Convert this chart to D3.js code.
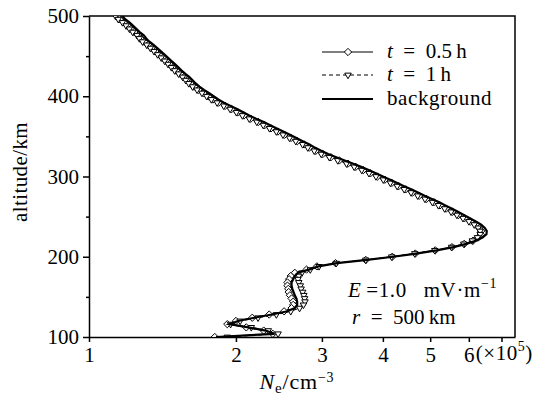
<!DOCTYPE html>
<html><head><meta charset="utf-8">
<script src="https://cdn.jsdelivr.net/npm/d3@7"></script>
<style>
body{margin:0;background:#fff;}
svg text{font-family:"Liberation Serif","Times New Roman",serif;fill:#000;}
</style></head>
<body><svg id="c" width="545" height="407"></svg>
<script>
const altitudes = d3.range(500, 99, -4);
const background = [1.17,1.186,1.21,1.23,1.25,1.27,1.295,1.31,1.33,1.356,1.38,1.404,1.428,1.452,1.476,1.50,1.524,1.548,1.576,1.606,1.63,1.654,1.684,1.72,1.76,1.80,1.84,1.89,1.95,2.01,2.07,2.13,2.20,2.28,2.35,2.42,2.50,2.58,2.66,2.74,2.83,2.90,2.99,3.09,3.21,3.34,3.48,3.61,3.74,3.87,4.00,4.14,4.28,4.42,4.57,4.72,4.87,5.04,5.22,5.37,5.53,5.70,5.86,6.03,6.20,6.36,6.47,6.53,6.52,6.40,6.20,5.93,5.58,5.15,4.68,4.20,3.71,3.22,2.95,2.82,2.68,2.64,2.62,2.60,2.60,2.61,2.625,2.64,2.66,2.67,2.67,2.64,2.55,2.37,2.18,2.02,1.94,2.12,2.30,2.40,1.82];
const t05h = [1.14,1.156,1.18,1.20,1.219,1.238,1.263,1.277,1.297,1.322,1.346,1.369,1.392,1.416,1.439,1.463,1.486,1.509,1.537,1.566,1.589,1.613,1.642,1.677,1.716,1.755,1.794,1.843,1.901,1.960,2.018,2.077,2.145,2.223,2.291,2.36,2.438,2.516,2.594,2.672,2.759,2.828,2.915,3.013,3.130,3.257,3.393,3.520,3.647,3.773,3.90,4.037,4.173,4.310,4.456,4.602,4.748,4.914,5.090,5.236,5.392,5.558,5.714,5.879,6.045,6.201,6.31,6.36,6.35,6.27,6.12,5.87,5.54,5.12,4.66,4.18,3.69,3.20,2.93,2.79,2.64,2.59,2.57,2.55,2.55,2.56,2.565,2.58,2.60,2.62,2.62,2.60,2.51,2.34,2.16,2.00,1.92,2.10,2.28,2.38,1.81];
const t1h = [1.133,1.148,1.171,1.191,1.21,1.229,1.254,1.268,1.287,1.313,1.336,1.359,1.382,1.406,1.429,1.452,1.475,1.498,1.526,1.555,1.578,1.601,1.63,1.665,1.704,1.742,1.781,1.83,1.888,1.946,2.004,2.062,2.13,2.207,2.275,2.343,2.42,2.497,2.575,2.652,2.739,2.807,2.894,2.991,3.107,3.233,3.369,3.494,3.62,3.746,3.872,4.008,4.143,4.279,4.424,4.569,4.714,4.879,5.053,5.198,5.353,5.518,5.672,5.837,6.002,6.156,6.27,6.33,6.33,6.25,6.10,5.86,5.53,5.11,4.65,4.17,3.69,3.21,2.96,2.84,2.73,2.69,2.68,2.69,2.71,2.72,2.74,2.755,2.765,2.77,2.75,2.70,2.59,2.42,2.22,2.04,1.95,2.15,2.33,2.44,1.92];
const xTickValues = [1,2,3,4,5,6,7];
const xTickLabels = ["1","2","3","4","5","6",""];
const yTickValues = [100,200,300,400,500];
const yMinorTicks = [150,250,350,450];
const legendLabels = ["t = 0.5 h","t = 1 h","background"];

const svg = d3.select("#c");
const L=89,R=515,T=16,B=337;
const FS=21;
const x = d3.scaleLog().domain([1,7.46]).range([L,R]);
const y = d3.scaleLinear().domain([100,500]).range([B,T]);

svg.append("defs").append("clipPath").attr("id","clip")
  .append("rect").attr("x",L).attr("y",T).attr("width",R-L).attr("height",B-T);

// axes
const xAxis = d3.axisBottom(x).tickValues(xTickValues).tickFormat((d,i)=>xTickLabels[i]).tickSize(5).tickSizeOuter(0);
const gx = svg.append("g").attr("transform",`translate(0,${B})`).call(xAxis);
gx.selectAll("text").attr("font-size",FS).attr("dy","0.71em").attr("y",10);
const yAxis = d3.axisLeft(y).tickValues(yTickValues).tickSize(6).tickSizeOuter(0);
const gy = svg.append("g").attr("transform",`translate(${L},0)`).call(yAxis);
gy.selectAll("text").attr("font-size",FS).attr("x",-10);
const gym = svg.append("g").attr("transform",`translate(${L},0)`).call(d3.axisLeft(y).tickValues(yMinorTicks).tickSize(3).tickFormat(""));
gym.select(".domain").remove();
[gx,gy,gym].forEach(g=>{g.selectAll("path,line").attr("stroke","#000").attr("stroke-width",1.5);g.selectAll("text").attr("font-family","Liberation Serif");});
svg.append("path").attr("d",`M${L},${T}H${R}V${B}`).attr("fill","none").attr("stroke","#000").attr("stroke-width",1.5);

// ×10^5
const mult = svg.append("text").attr("x",x(6)+7).attr("y",B+23).attr("font-size",FS).attr("letter-spacing",0.5);
mult.append("tspan").text("(×10");
mult.append("tspan").attr("font-size",14).attr("dy",-9).text("5");
mult.append("tspan").attr("dy",9).text(")");

// axis titles
const xl = svg.append("text").attr("x",297).attr("y",389).attr("text-anchor","middle").attr("font-size",22).attr("letter-spacing",0.8);
xl.append("tspan").attr("font-style","italic").text("N");
xl.append("tspan").attr("font-size",15).attr("dy",4).text("e");
xl.append("tspan").attr("dy",-4).text("/cm");
xl.append("tspan").attr("font-size",14).attr("dy",-7).text("−3");
svg.append("text").attr("transform","translate(27,172) rotate(-90)").attr("text-anchor","middle").attr("font-size",FS).attr("letter-spacing",0.4).text("altitude/km");

// data
const idx = d3.range(altitudes.length);
const plot = svg.append("g").attr("clip-path","url(#clip)");
const line = arr => d3.line().x(i=>x(arr[i])).y(i=>y(altitudes[i]));
const diamond = d3.symbol().type(d3.symbolDiamond2).size(34);
const tri = d3.symbol().type(d3.symbolTriangle2).size(30);
plot.append("path").attr("d",line(t05h)(idx)).attr("fill","none").attr("stroke","#000").attr("stroke-width",1);
plot.append("path").attr("d",line(t1h)(idx)).attr("fill","none").attr("stroke","#000").attr("stroke-width",1).attr("stroke-dasharray","4,3");
plot.selectAll(".dm").data(idx).join("path").attr("d",diamond)
  .attr("transform",i=>`translate(${x(t05h[i])},${y(altitudes[i])})`)
  .attr("fill","#fff").attr("stroke","#000").attr("stroke-width",1);
plot.selectAll(".tr").data(idx).join("path").attr("d",tri)
  .attr("transform",i=>`translate(${x(t1h[i])},${y(altitudes[i])}) rotate(180)`)
  .attr("fill","#fff").attr("stroke","#000").attr("stroke-width",1);
plot.append("path").attr("d",line(background)(idx)).attr("fill","none").attr("stroke","#000").attr("stroke-width",2.2);

// legend
const lg = svg.append("g");
const rows=[52,75,99];
lg.append("line").attr("x1",322).attr("x2",373).attr("y1",rows[0]).attr("y2",rows[0]).attr("stroke","#000").attr("stroke-width",1);
lg.append("path").attr("d",diamond).attr("transform",`translate(348,${rows[0]})`).attr("fill","#fff").attr("stroke","#000");
lg.append("line").attr("x1",322).attr("x2",373).attr("y1",rows[1]).attr("y2",rows[1]).attr("stroke","#000").attr("stroke-width",1).attr("stroke-dasharray","4,3");
lg.append("path").attr("d",tri).attr("transform",`translate(348,${rows[1]}) rotate(180)`).attr("fill","#fff").attr("stroke","#000");
lg.append("line").attr("x1",322).attr("x2",373).attr("y1",rows[2]).attr("y2",rows[2]).attr("stroke","#000").attr("stroke-width",2.2);
legendLabels.forEach((lab,i)=>{
  const t = lg.append("text").attr("x",387).attr("y",rows[i]+6).attr("font-size",FS);
  if(i<2){
    const parts = lab.split(" = ");
    t.append("tspan").attr("font-style","italic").text("t");
    t.append("tspan").text("\u2002=\u2002" + parts[1].replace(" ", "\u2009"));
  } else t.attr("letter-spacing",0.6).text(lab);
});

// annotation
const a1 = svg.append("text").attr("x",348).attr("y",297).attr("font-size",FS).attr("letter-spacing",0.6);
a1.append("tspan").attr("font-style","italic").text("E");
a1.append("tspan").text("\u2009=1.0\u2002 mV·m");
a1.append("tspan").attr("font-size",14).attr("dy",-9).text("−1");
const a2 = svg.append("text").attr("x",352).attr("y",324).attr("font-size",FS);
a2.append("tspan").attr("font-style","italic").text("r");
a2.append("tspan").text("\u2002=\u2002500\u2009km");
</script></body></html>
